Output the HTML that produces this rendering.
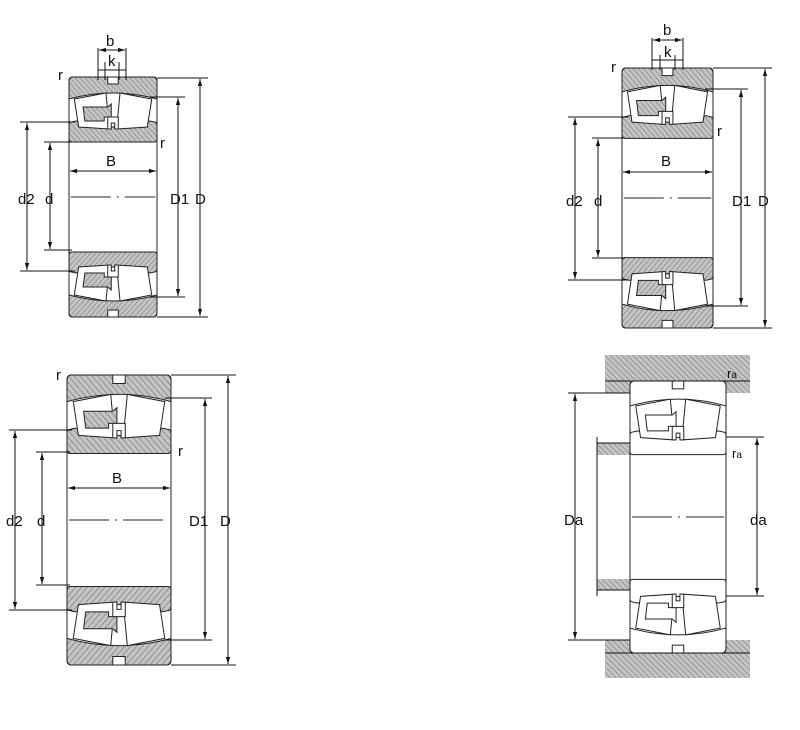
<!DOCTYPE html>
<html><head><style>
html,body{margin:0;padding:0;background:#fff;}
svg{display:block;}
text{font-family:"Liberation Sans Narrow","Liberation Sans",sans-serif;font-size:15px;fill:#111;}
</style></head><body>
<svg width="800" height="730" viewBox="0 0 800 730" xmlns="http://www.w3.org/2000/svg">
<defs>
<pattern id="h" width="4" height="4" patternUnits="userSpaceOnUse" patternTransform="rotate(-45)">
<rect width="4" height="4" fill="#c4c4c4"/><line x1="0" y1="0" x2="0" y2="4" stroke="#7a7a7a" stroke-width="1.2"/>
</pattern>
<marker id="a" viewBox="0 0 10 10" refX="10" refY="5" markerWidth="7" markerHeight="7" orient="auto-start-reverse"><path d="M0,2 L10,5 L0,8 Z" fill="#111"/></marker>
<g id="halfR">
<path vector-effect="non-scaling-stroke" d="M4,0 H44 V7 H56 V0 H96 Q100,0 100,4 V22 Q50,10 0,22 V4 Q0,0 4,0 Z"/>
<path vector-effect="non-scaling-stroke" d="M0,48 Q0,45 3,45 L8,44 Q50,56 92,44 L97,45 Q100,45 100,48 V62 Q100,65 97,65 H3 Q0,65 0,62 Z"/>
</g>
<g id="halfI">
<polygon vector-effect="non-scaling-stroke" fill="#fff" points="6,22 42,16 46,52 11,50"/>
<polygon vector-effect="non-scaling-stroke" fill="#fff" points="58,16 94,22 89,50 54,52"/>
</g>
<g id="halfC">
<path vector-effect="non-scaling-stroke" d="M16,30 H44 L48,27 V40 H40 V44 H18 Z"/>
<path vector-effect="non-scaling-stroke" fill="#fff" d="M44,40 H56 V52 H52 V46 H48 V52 H44 Z"/>
</g>
<symbol id="brg" viewBox="0 0 100 240" preserveAspectRatio="none" overflow="visible">
<g stroke="#222" stroke-width="1" fill="url(#h)">
<use href="#halfR"/><use href="#halfI"/><use href="#halfC"/>
<g transform="translate(0,240) scale(1,-1)"><use href="#halfR"/><use href="#halfI"/><use href="#halfC"/></g>
</g>
<rect x="0" y="0" width="100" height="240" rx="4" fill="none" stroke="#222" vector-effect="non-scaling-stroke"/>
<line x1="2" y1="120" x2="98" y2="120" stroke="#222" stroke-dasharray="40,6,2,6" vector-effect="non-scaling-stroke"/>
</symbol>
<symbol id="brgw" viewBox="0 0 100 240" preserveAspectRatio="none" overflow="visible">
<g stroke="#222" stroke-width="1" fill="#fff">
<use href="#halfR"/><use href="#halfI"/><use href="#halfC"/>
<g transform="translate(0,240) scale(1,-1)"><use href="#halfR"/><use href="#halfI"/><use href="#halfC"/></g>
</g>
<rect x="0" y="0" width="100" height="240" rx="4" fill="none" stroke="#222" vector-effect="non-scaling-stroke"/>
<line x1="2" y1="120" x2="98" y2="120" stroke="#222" stroke-dasharray="40,6,2,6" vector-effect="non-scaling-stroke"/>
</symbol>
</defs>

<!-- Bearing 1 -->
<use href="#brg" x="69" y="77" width="88" height="240"/>
<g stroke="#111" stroke-width="1" fill="none">
<line x1="20" y1="122" x2="75" y2="122"/><line x1="20" y1="271" x2="75" y2="271"/>
<line x1="27" y1="123" x2="27" y2="270" marker-start="url(#a)" marker-end="url(#a)"/>
<line x1="44" y1="142" x2="72" y2="142"/><line x1="44" y1="250" x2="72" y2="250"/>
<line x1="50" y1="143" x2="50" y2="249" marker-start="url(#a)" marker-end="url(#a)"/>
<line x1="150" y1="97" x2="185" y2="97"/><line x1="150" y1="297" x2="185" y2="297"/>
<line x1="178" y1="98" x2="178" y2="296" marker-start="url(#a)" marker-end="url(#a)"/>
<line x1="157" y1="78" x2="208" y2="78"/><line x1="157" y1="317" x2="208" y2="317"/>
<line x1="200" y1="79" x2="200" y2="316" marker-start="url(#a)" marker-end="url(#a)"/>
<line x1="70" y1="171" x2="156" y2="171" marker-start="url(#a)" marker-end="url(#a)"/>
<line x1="98" y1="48" x2="98" y2="80"/><line x1="126" y1="48" x2="126" y2="80"/>
<line x1="99" y1="50" x2="125" y2="50" marker-start="url(#a)" marker-end="url(#a)"/>
<line x1="105" y1="62" x2="105" y2="80"/><line x1="119" y1="62" x2="119" y2="80"/>
<line x1="98" y1="70" x2="126" y2="70"/>
</g>
<text x="106" y="46">b</text><text x="108" y="66">k</text>
<text x="58" y="80">r</text><text x="160" y="148">r</text>
<text x="106" y="166">B</text>
<text x="18" y="204">d2</text><text x="45" y="204">d</text>
<text x="170" y="204">D1</text><text x="195" y="204">D</text>

<!-- Bearing 2 -->
<use href="#brg" x="622" y="68" width="91" height="260"/>
<g stroke="#111" stroke-width="1" fill="none">
<line x1="568" y1="117" x2="628" y2="117"/><line x1="568" y1="280" x2="628" y2="280"/>
<line x1="575" y1="118" x2="575" y2="279" marker-start="url(#a)" marker-end="url(#a)"/>
<line x1="592" y1="138" x2="625" y2="138"/><line x1="592" y1="258" x2="625" y2="258"/>
<line x1="598" y1="139" x2="598" y2="257" marker-start="url(#a)" marker-end="url(#a)"/>
<line x1="705" y1="89" x2="748" y2="89"/><line x1="705" y1="306" x2="748" y2="306"/>
<line x1="741" y1="90" x2="741" y2="305" marker-start="url(#a)" marker-end="url(#a)"/>
<line x1="713" y1="68" x2="772" y2="68"/><line x1="713" y1="328" x2="772" y2="328"/>
<line x1="765" y1="69" x2="765" y2="327" marker-start="url(#a)" marker-end="url(#a)"/>
<line x1="623" y1="172" x2="712" y2="172" marker-start="url(#a)" marker-end="url(#a)"/>
<line x1="652" y1="38" x2="652" y2="70"/><line x1="683" y1="38" x2="683" y2="70"/>
<line x1="653" y1="40" x2="682" y2="40" marker-start="url(#a)" marker-end="url(#a)"/>
<line x1="660" y1="55" x2="660" y2="70"/><line x1="675" y1="55" x2="675" y2="70"/>
<line x1="652" y1="60" x2="683" y2="60"/>
</g>
<text x="663" y="35">b</text><text x="664" y="57">k</text>
<text x="611" y="72">r</text><text x="717" y="136">r</text>
<text x="661" y="166">B</text>
<text x="566" y="206">d2</text><text x="594" y="206">d</text>
<text x="732" y="206">D1</text><text x="758" y="206">D</text>

<!-- Bearing 3 -->
<use href="#brg" x="67" y="375" width="104" height="290"/>
<g stroke="#111" stroke-width="1" fill="none">
<line x1="9" y1="430" x2="72" y2="430"/><line x1="9" y1="610" x2="72" y2="610"/>
<line x1="15" y1="431" x2="15" y2="609" marker-start="url(#a)" marker-end="url(#a)"/>
<line x1="36" y1="452" x2="70" y2="452"/><line x1="36" y1="585" x2="70" y2="585"/>
<line x1="42" y1="453" x2="42" y2="584" marker-start="url(#a)" marker-end="url(#a)"/>
<line x1="165" y1="398" x2="212" y2="398"/><line x1="165" y1="640" x2="212" y2="640"/>
<line x1="205" y1="399" x2="205" y2="639" marker-start="url(#a)" marker-end="url(#a)"/>
<line x1="171" y1="375" x2="236" y2="375"/><line x1="171" y1="665" x2="236" y2="665"/>
<line x1="228" y1="376" x2="228" y2="664" marker-start="url(#a)" marker-end="url(#a)"/>
<line x1="68" y1="488" x2="170" y2="488" marker-start="url(#a)" marker-end="url(#a)"/>
</g>
<text x="56" y="380">r</text><text x="178" y="456">r</text>
<text x="112" y="483">B</text>
<text x="6" y="526">d2</text><text x="37" y="526">d</text>
<text x="189" y="526">D1</text><text x="220" y="526">D</text>

<!-- Bearing 4 with housing -->
<path d="M605,355 H750 V393 H726 V381 H630 V393 H605 Z" fill="url(#h)" stroke="none"/>
<path d="M605,640 H630 V653 H726 V640 H750 V678 H605 Z" fill="url(#h)" stroke="none"/>
<rect x="597" y="443" width="33" height="12" fill="url(#h)"/>
<rect x="597" y="579" width="33" height="11" fill="url(#h)"/>
<use href="#brgw" x="630" y="381" width="96" height="272"/>
<g stroke="#111" stroke-width="1" fill="none">
<line x1="605" y1="381" x2="750" y2="381"/>
<line x1="605" y1="653" x2="750" y2="653"/>
<line x1="597" y1="437" x2="597" y2="596"/>
<line x1="597" y1="443" x2="630" y2="443"/><line x1="597" y1="590" x2="630" y2="590"/>
<line x1="568" y1="393" x2="630" y2="393"/><line x1="568" y1="640" x2="630" y2="640"/>
<line x1="575" y1="394" x2="575" y2="639" marker-start="url(#a)" marker-end="url(#a)"/>
<line x1="726" y1="437" x2="764" y2="437"/><line x1="726" y1="596" x2="764" y2="596"/>
<line x1="757" y1="438" x2="757" y2="595" marker-start="url(#a)" marker-end="url(#a)"/>
</g>
<text x="727" y="378" style="font-size:13px">r<tspan style="font-size:10px">a</tspan></text>
<text x="732" y="458" style="font-size:13px">r<tspan style="font-size:10px">a</tspan></text>
<text x="564" y="525">Da</text><text x="750" y="525">da</text>
</svg>
</body></html>
